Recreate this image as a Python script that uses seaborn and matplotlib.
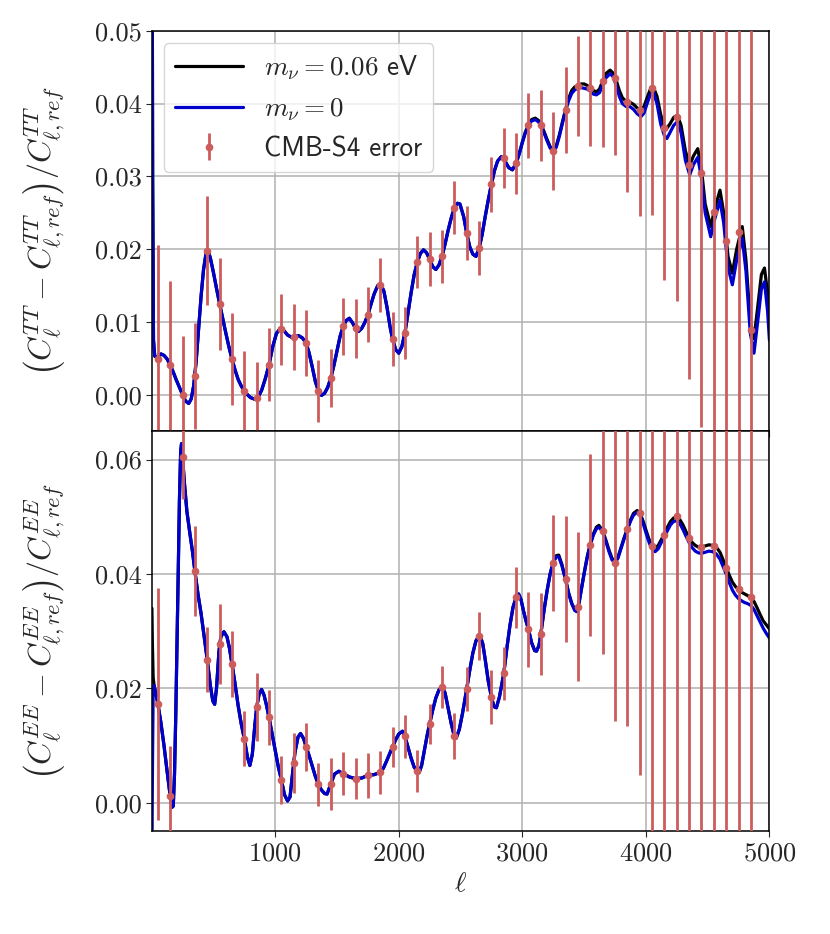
import numpy as np
import matplotlib
matplotlib.use('Agg')
import matplotlib.pyplot as plt
import matplotlib.ticker as mticker
import seaborn as sns

# bin centres of the CMB-S4 error points
ell_bins = [50, 150, 250, 350, 450, 550, 650, 750, 850, 950,
            1050, 1150, 1250, 1350, 1450, 1550, 1650, 1750, 1850, 1950,
            2050, 2150, 2250, 2350, 2450, 2550, 2650, 2750, 2850, 2950,
            3050, 3150, 3250, 3350, 3450, 3550, 3650, 3750, 3850, 3950,
            4050, 4150, 4250, 4350, 4450, 4550, 4650, 4750, 4850]

# TT: points and errors
tt_pts = [0.0049, 0.0041, 0.0000, 0.0026, 0.0198, 0.0125, 0.0049, 0.0005, -0.0004, 0.0041,
          0.0090, 0.0079, 0.0071, 0.0005, 0.0023, 0.0094, 0.0091, 0.0110, 0.0151, 0.0076,
          0.0085, 0.0182, 0.0186, 0.0190, 0.0257, 0.0222, 0.0201, 0.0289, 0.0325, 0.0318,
          0.0370, 0.0370, 0.0335, 0.0391, 0.0424, 0.0422, 0.0431, 0.0435, 0.0402, 0.0391,
          0.0422, 0.0367, 0.0381, 0.0316, 0.0305, 0.0251, 0.0211, 0.0223, 0.0089]
tt_err = [0.0156, 0.0115, 0.0081, 0.0073, 0.0075, 0.0063, 0.0063, 0.0055, 0.0049, 0.0050,
          0.0049, 0.0045, 0.0045, 0.0043, 0.0040, 0.0039, 0.0041, 0.0038, 0.0037, 0.0037,
          0.0036, 0.0036, 0.0037, 0.0036, 0.0036, 0.0037, 0.0037, 0.0038, 0.0041, 0.0042,
          0.0045, 0.0049, 0.0054, 0.0059, 0.0069, 0.0080, 0.0090, 0.0105, 0.0124, 0.0145,
          0.0175, 0.0210, 0.0252, 0.0294, 0.0350, 0.0420, 0.0500, 0.0600, 0.0720]

# EE: points and errors
ee_pts = [0.0173, 0.0012, 0.0605, 0.0405, 0.0250, 0.0278, 0.0243, 0.0112, 0.0167, 0.0149,
          0.0040, 0.0069, 0.0098, 0.0032, 0.0033, 0.0051, 0.0042, 0.0048, 0.0053, 0.0098,
          0.0116, 0.0055, 0.0138, 0.0202, 0.0116, 0.0199, 0.0292, 0.0185, 0.0226, 0.0359,
          0.0303, 0.0295, 0.0420, 0.0391, 0.0343, 0.0451, 0.0475, 0.0420, 0.0479, 0.0506,
          0.0449, 0.0469, 0.0501, 0.0463, 0.0447, 0.0449, 0.0410, 0.0373, 0.0360]
ee_err = [0.0203, 0.0087, 0.0073, 0.0079, 0.0057, 0.0070, 0.0058, 0.0048, 0.0060, 0.0048,
          0.0042, 0.0052, 0.0042, 0.0038, 0.0045, 0.0038, 0.0036, 0.0039, 0.0037, 0.0035,
          0.0037, 0.0037, 0.0035, 0.0037, 0.0040, 0.0039, 0.0042, 0.0047, 0.0047, 0.0053,
          0.0065, 0.0072, 0.0084, 0.0110, 0.0131, 0.0159, 0.0215, 0.0277, 0.0345, 0.0458,
          0.0580, 0.0720, 0.0900, 0.1100, 0.1300, 0.1600, 0.1900, 0.2300, 0.2700]

# ---- TT curves ----
# low-ell part, where both curves coincide
tt_ell_low = [2, 8, 15, 25, 50, 75, 100, 125, 150, 175, 200, 225, 250, 275, 300, 320, 340,
              360, 380, 400, 420, 440, 455, 475, 500, 525, 550, 575, 600, 625, 650, 675,
              700, 725, 750, 775, 800, 830, 860, 890, 920, 950, 980, 1010, 1040, 1070, 1100,
              1130, 1160, 1190, 1220, 1250, 1275, 1300, 1325, 1350, 1375, 1400, 1425, 1450,
              1475, 1500, 1525, 1550, 1575, 1600, 1625, 1650, 1675, 1700, 1725, 1750, 1775,
              1800, 1830, 1855, 1880, 1905, 1930, 1950, 1975, 2000, 2025, 2050, 2075, 2100,
              2125, 2150, 2175, 2200, 2225, 2250, 2275, 2300, 2325, 2350, 2375, 2400, 2425,
              2450, 2475, 2495, 2525, 2550, 2575, 2600, 2625, 2650, 2675, 2700, 2725, 2750,
              2775, 2800, 2830, 2860, 2890, 2920, 2950, 2975]
tt_low = [0.0900, 0.0300, 0.0075, 0.0053, 0.0050, 0.0056, 0.0054, 0.0049, 0.0041, 0.0031,
          0.0020, 0.0010, 0.0000, -0.0009, -0.0012, -0.0006, 0.0012, 0.0045, 0.0090, 0.0135,
          0.0172, 0.0194, 0.0198, 0.0188, 0.0168, 0.0146, 0.0125, 0.0105, 0.0085, 0.0066,
          0.0049, 0.0034, 0.0021, 0.0012, 0.0005, 0.0000, -0.0004, -0.0006, -0.0004, 0.0006,
          0.0022, 0.0041, 0.0066, 0.0084, 0.0091, 0.0088, 0.0082, 0.0079, 0.0080, 0.0081,
          0.0078, 0.0071, 0.0057, 0.0038, 0.0018, 0.0005, -0.0001, 0.0002, 0.0010, 0.0023,
          0.0040, 0.0060, 0.0080, 0.0094, 0.0102, 0.0105, 0.0099, 0.0091, 0.0087, 0.0091,
          0.0099, 0.0110, 0.0124, 0.0138, 0.0150, 0.0152, 0.0142, 0.0120, 0.0093, 0.0076,
          0.0062, 0.0057, 0.0066, 0.0085, 0.0112, 0.0140, 0.0165, 0.0182, 0.0194, 0.0199,
          0.0195, 0.0186, 0.0176, 0.0172, 0.0178, 0.0190, 0.0207, 0.0226, 0.0243, 0.0257,
          0.0263, 0.0262, 0.0245, 0.0222, 0.0203, 0.0193, 0.0190, 0.0201, 0.0220, 0.0245,
          0.0268, 0.0289, 0.0308, 0.0321, 0.0327, 0.0321, 0.0312, 0.0309, 0.0318, 0.0331]
# high-ell part, where the two curves split
tt_ell_high = [3000, 3025, 3050, 3075, 3105, 3130, 3150, 3175, 3200, 3225, 3250, 3275, 3300,
               3325, 3350, 3375, 3400, 3425, 3450, 3475, 3500, 3525, 3550, 3575, 3600, 3625,
               3650, 3675, 3710, 3735, 3760, 3785, 3810, 3840, 3870, 3900, 3930, 3960, 3985,
               4010, 4035, 4060, 4090, 4120, 4150, 4170, 4195, 4225, 4255, 4285, 4320, 4355,
               4385, 4420, 4450, 4480, 4525, 4560, 4600, 4630, 4665, 4700, 4735, 4780, 4810,
               4845, 4875, 4905, 4935, 4960, 4985, 5000]
tt_blue_high = [0.0346, 0.0360, 0.0370, 0.0376, 0.0378, 0.0375, 0.0370, 0.0360, 0.0349,
                0.0339, 0.0334, 0.0340, 0.0355, 0.0373, 0.0390, 0.0404, 0.0414, 0.0419,
                0.0421, 0.0422, 0.0421, 0.0420, 0.0417, 0.0413, 0.0412, 0.0415, 0.0425,
                0.0435, 0.0441, 0.0437, 0.0425, 0.0410, 0.0400, 0.0396, 0.0396, 0.0392,
                0.0386, 0.0382, 0.0387, 0.0400, 0.0412, 0.0416, 0.0400, 0.0372, 0.0356,
                0.0352, 0.0360, 0.0370, 0.0375, 0.0360, 0.0322, 0.0302, 0.0316, 0.0326,
                0.0298, 0.0250, 0.0217, 0.0243, 0.0267, 0.0236, 0.0175, 0.0151, 0.0185,
                0.0215, 0.0170, 0.0085, 0.0057, 0.0100, 0.0145, 0.0155, 0.0115, 0.0075]
tt_black_high = [0.0347, 0.0361, 0.0371, 0.0378, 0.0380, 0.0377, 0.0372, 0.0362, 0.0351,
                 0.0341, 0.0335, 0.0342, 0.0357, 0.0375, 0.0392, 0.0407, 0.0418, 0.0423,
                 0.0424, 0.0427, 0.0427, 0.0425, 0.0422, 0.0418, 0.0416, 0.0420, 0.0431,
                 0.0441, 0.0446, 0.0442, 0.0432, 0.0418, 0.0408, 0.0403, 0.0402, 0.0399,
                 0.0394, 0.0391, 0.0396, 0.0408, 0.0419, 0.0423, 0.0410, 0.0385, 0.0368,
                 0.0366, 0.0372, 0.0381, 0.0384, 0.0370, 0.0335, 0.0315, 0.0328, 0.0338,
                 0.0310, 0.0262, 0.0231, 0.0257, 0.0281, 0.0250, 0.0190, 0.0167, 0.0200,
                 0.0231, 0.0185, 0.0100, 0.0077, 0.0120, 0.0165, 0.0174, 0.0140, 0.0105]

# ---- EE curves ----
ee_ell_start = [2, 6, 12]
ee_blue_start = [-0.0120, 0.0040, 0.0190]
ee_black_start = [0.0340, 0.0280, 0.0220]
ee_ell_low = [20, 35, 50, 75, 100, 125, 150, 165, 175, 185, 195, 205, 215, 225, 235, 242,
              250, 265, 285, 310, 330, 350, 375, 400, 425, 450, 475, 495, 510, 525, 545,
              560, 585, 610, 630, 650, 675, 700, 725, 750, 775, 795, 815, 835, 850, 870,
              890, 910, 930, 950, 975, 1000, 1025, 1050, 1075, 1100, 1120, 1140, 1160, 1185,
              1205, 1230, 1250, 1275, 1300, 1325, 1350, 1375, 1400, 1420, 1450, 1480, 1515,
              1550, 1600, 1650, 1700, 1750, 1800, 1850, 1875, 1900, 1925, 1950, 1975, 2000,
              2030, 2050, 2075, 2100, 2125, 2150, 2165, 2185, 2210, 2230, 2250, 2275, 2300,
              2325, 2350, 2375, 2400, 2425, 2450, 2465, 2490, 2515, 2550, 2575, 2600, 2625,
              2655, 2680, 2700, 2725, 2750, 2770, 2790, 2815, 2850, 2875, 2900, 2925, 2950,
              2970, 2990, 3010, 3030, 3050, 3075, 3100, 3115, 3135, 3150, 3175, 3200, 3225,
              3250]
ee_low = [0.0205, 0.0190, 0.0173, 0.0140, 0.0100, 0.0055, 0.0012, -0.0008, -0.0006, 0.0050,
          0.0150, 0.0270, 0.0400, 0.0530, 0.0615, 0.0628, 0.0605, 0.0560, 0.0510, 0.0470,
          0.0440, 0.0405, 0.0365, 0.0331, 0.0290, 0.0250, 0.0205, 0.0178, 0.0172, 0.0200,
          0.0265, 0.0290, 0.0299, 0.0290, 0.0270, 0.0243, 0.0208, 0.0170, 0.0138, 0.0112,
          0.0080, 0.0065, 0.0085, 0.0135, 0.0167, 0.0190, 0.0198, 0.0188, 0.0170, 0.0149,
          0.0120, 0.0090, 0.0063, 0.0040, 0.0014, 0.0003, 0.0010, 0.0050, 0.0088, 0.0115,
          0.0121, 0.0112, 0.0098, 0.0082, 0.0064, 0.0046, 0.0032, 0.0022, 0.0016, 0.0015,
          0.0033, 0.0050, 0.0055, 0.0051, 0.0045, 0.0042, 0.0043, 0.0048, 0.0049, 0.0053,
          0.0060, 0.0072, 0.0085, 0.0098, 0.0110, 0.0120, 0.0125, 0.0116, 0.0097, 0.0078,
          0.0062, 0.0055, 0.0053, 0.0065, 0.0095, 0.0118, 0.0138, 0.0162, 0.0183, 0.0197,
          0.0203, 0.0192, 0.0165, 0.0138, 0.0116, 0.0113, 0.0128, 0.0155, 0.0199, 0.0232,
          0.0262, 0.0283, 0.0294, 0.0278, 0.0250, 0.0212, 0.0185, 0.0168, 0.0166, 0.0185,
          0.0226, 0.0270, 0.0310, 0.0342, 0.0359, 0.0365, 0.0355, 0.0335, 0.0318, 0.0303,
          0.0280, 0.0266, 0.0265, 0.0275, 0.0295, 0.0335, 0.0370, 0.0400, 0.0420]
ee_ell_high = [3275, 3295, 3320, 3350, 3375, 3400, 3425, 3440, 3460, 3480, 3500, 3525, 3550,
               3575, 3600, 3620, 3650, 3675, 3700, 3725, 3750, 3775, 3800, 3825, 3850, 3875,
               3900, 3930, 3955, 3980, 4005, 4030, 4055, 4075, 4100, 4125, 4150, 4175, 4200,
               4225, 4250, 4275, 4300, 4325, 4350, 4375, 4400, 4425, 4450, 4480, 4510, 4540,
               4570, 4600, 4625, 4650, 4675, 4700, 4725, 4750, 4775, 4800, 4825, 4850, 4875,
               4900, 4925, 4950, 4975, 5000]
ee_blue_high = [0.0430, 0.0430, 0.0415, 0.0390, 0.0366, 0.0348, 0.0336, 0.0334, 0.0350,
                0.0375, 0.0400, 0.0428, 0.0451, 0.0468, 0.0479, 0.0482, 0.0474, 0.0458,
                0.0440, 0.0425, 0.0419, 0.0428, 0.0445, 0.0462, 0.0477, 0.0492, 0.0503,
                0.0508, 0.0502, 0.0487, 0.0469, 0.0453, 0.0442, 0.0439, 0.0444, 0.0455,
                0.0465, 0.0476, 0.0486, 0.0492, 0.0493, 0.0488, 0.0478, 0.0466, 0.0455,
                0.0446, 0.0440, 0.0437, 0.0436, 0.0438, 0.0440, 0.0439, 0.0435, 0.0426,
                0.0413, 0.0400, 0.0385, 0.0372, 0.0363, 0.0357, 0.0353, 0.0350, 0.0348,
                0.0345, 0.0338, 0.0327, 0.0316, 0.0305, 0.0296, 0.0288]
ee_black_high = [0.0432, 0.0433, 0.0417, 0.0391, 0.0367, 0.0349, 0.0337, 0.0335, 0.0351,
                 0.0376, 0.0401, 0.0430, 0.0452, 0.0470, 0.0482, 0.0485, 0.0476, 0.0460,
                 0.0443, 0.0428, 0.0421, 0.0430, 0.0447, 0.0464, 0.0479, 0.0494, 0.0506,
                 0.0511, 0.0505, 0.0491, 0.0474, 0.0458, 0.0447, 0.0445, 0.0450, 0.0460,
                 0.0470, 0.0482, 0.0492, 0.0498, 0.0500, 0.0495, 0.0486, 0.0474, 0.0463,
                 0.0455, 0.0450, 0.0447, 0.0447, 0.0449, 0.0451, 0.0450, 0.0447, 0.0438,
                 0.0425, 0.0411, 0.0398, 0.0386, 0.0378, 0.0373, 0.0368, 0.0365, 0.0362,
                 0.0359, 0.0352, 0.0341, 0.0329, 0.0318, 0.0311, 0.0304]

tt_ell = tt_ell_low + tt_ell_high
tt_blue = tt_low + tt_blue_high
tt_black = tt_low + tt_black_high
ee_ell = ee_ell_start + ee_ell_low + ee_ell_high
ee_blue = ee_blue_start + ee_low + ee_blue_high
ee_black = ee_black_start + ee_low + ee_black_high

sns.set_style('ticks')
plt.rcParams['font.family'] = ['cmr10']
plt.rcParams['mathtext.fontset'] = 'cm'
plt.rcParams['axes.formatter.use_mathtext'] = True
plt.rcParams['axes.unicode_minus'] = False

fig, (ax1, ax2) = plt.subplots(2, 1, sharex=True, figsize=(8.3, 9.34), dpi=100)
fig.subplots_adjust(left=0.183, right=0.927, top=0.967, bottom=0.110, hspace=0)

err_col = 'indianred'

sns.lineplot(x=tt_ell, y=tt_black, color='black', lw=2.3, ax=ax1, estimator=None,
             sort=False, label=r'$m_\nu = 0.06$ eV')
sns.lineplot(x=tt_ell, y=tt_blue, color='mediumblue', lw=2.3, ax=ax1, estimator=None,
             sort=False, label=r'$m_\nu = 0$')
ax1.errorbar(ell_bins, tt_pts, yerr=tt_err, fmt='o', color=err_col, ms=4.5, elinewidth=2,
             label='CMB-S4 error', zorder=3)

sns.lineplot(x=ee_ell, y=ee_black, color='black', lw=2.3, ax=ax2, estimator=None, sort=False)
sns.lineplot(x=ee_ell, y=ee_blue, color='mediumblue', lw=2.3, ax=ax2, estimator=None,
             sort=False)
ax2.errorbar(ell_bins, ee_pts, yerr=ee_err, fmt='o', color=err_col, ms=4.5, elinewidth=2,
             zorder=3)

ax1.set_xlim(2, 5000)
ax1.set_ylim(-0.005, 0.05)
ax2.set_ylim(-0.005, 0.065)
ax1.set_yticks([0.00, 0.01, 0.02, 0.03, 0.04, 0.05])
ax2.set_yticks([0.00, 0.02, 0.04, 0.06])
ax2.set_xticks([1000, 2000, 3000, 4000, 5000])
ax1.yaxis.set_major_formatter(mticker.FormatStrFormatter('%.2f'))
ax2.yaxis.set_major_formatter(mticker.FormatStrFormatter('%.2f'))

for ax in (ax1, ax2):
    ax.grid(True, color='#b0b0b0', lw=1.1)
    ax.tick_params(labelsize=19, direction='out', length=4)
    for s in ax.spines.values():
        s.set_linewidth(1.1)
        s.set_color('black')

ax1.set_ylabel(r'$\left(C_\ell^{TT}-C_{\ell,ref}^{TT}\right)/C_{\ell,ref}^{TT}$',
               fontsize=23, labelpad=20)
ax2.set_ylabel(r'$\left(C_\ell^{EE}-C_{\ell,ref}^{EE}\right)/C_{\ell,ref}^{EE}$',
               fontsize=23, labelpad=20)
ax1.set_xlabel('')
ax2.set_xlabel(r'$\ell$', fontsize=20)
fig.align_ylabels([ax1, ax2])

ax1.legend(loc='upper left', prop={'family': 'cmss10', 'size': 19.5}, framealpha=0.8,
           handlelength=2.5, borderaxespad=0.45)

fig.savefig('out.png', dpi=100)
